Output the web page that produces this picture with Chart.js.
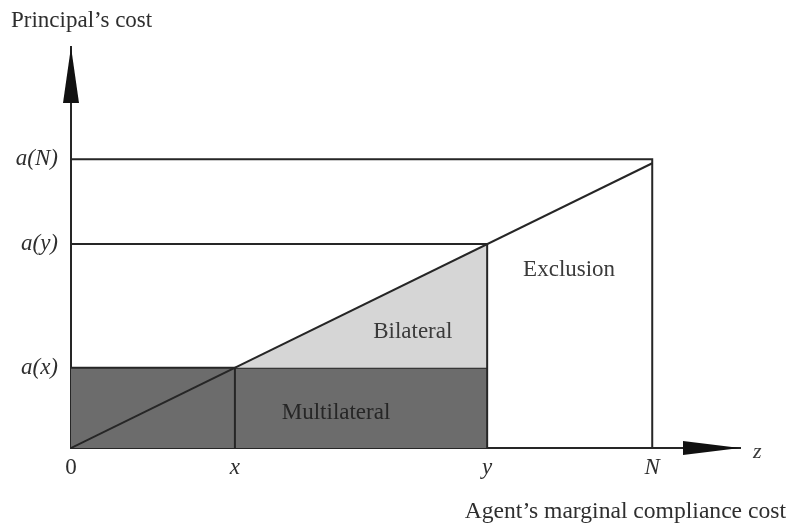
<!DOCTYPE html>
<html>
<head>
<meta charset="utf-8">
<script src="https://cdn.jsdelivr.net/npm/chart.js@4.4.0/dist/chart.umd.min.js"></script>
<style>
  body { margin: 0; background: #fff; }
</style>
</head>
<body>
<canvas id="chart" width="789" height="525"></canvas>
<script>
/* Principal's cost vs agent's marginal compliance cost */

// positions along z (agent's marginal compliance cost)
const zNames = ["0", "x", "y", "N"];
const zValues = [0, 2.82, 7.16, 10];
// principal's cost a(z)
const costNames = ["a(x)", "a(y)", "a(N)"];
const costValues = [1.38, 3.51, 4.97];
const diagEnd = 4.9;   // where the a(z) line meets z = N

const regionNames = ["Exclusion", "Bilateral", "Multilateral"];
const regionZ = [8.57, 5.88, 4.56];
const regionCost = [3.06, 2.0, 0.6];

const [z0, zx, zy, zN] = zValues;
const [ax, ay, aN] = costValues;

const INK = "#262626";
const serif = "'Liberation Serif', 'DejaVu Serif', serif";

function line(points, extra) {
    return Object.assign({
        data: points.map(p => ({x: p[0], y: p[1]})),
        showLine: true,
        borderColor: INK,
        borderWidth: 2,
        pointRadius: 0,
        tension: 0,
        fill: false,
        order: 1
    }, extra || {});
}

const datasets = [
    // multilateral block
    line([[z0, ax], [zy, ax]], {fill: "origin", backgroundColor: "#6c6c6c", order: 3}),
    // bilateral triangle
    line([[zx, ax], [zy, ay]], {fill: {value: ax}, backgroundColor: "#d6d6d6", borderWidth: 0, order: 2}),
    // a(z) diagonal
    line([[z0, 0], [zN, diagEnd]]),
    // a(N) bounds
    line([[z0, aN], [zN, aN], [zN, 0]]),
    // a(y) bounds
    line([[z0, ay], [zy, ay], [zy, 0]]),
    // x divider
    line([[zx, 0], [zx, ax]])
];

const decor = {
    id: "decor",
    afterDraw(chart) {
        const ctx = chart.ctx;
        const xs = chart.scales.x, ys = chart.scales.y;
        const a = chart.chartArea;
        ctx.save();
        ctx.fillStyle = "#111";
        // y arrow
        ctx.beginPath();
        ctx.moveTo(a.left, a.top);
        ctx.lineTo(a.left - 8, a.top + 56);
        ctx.lineTo(a.left + 8, a.top + 56);
        ctx.closePath();
        ctx.fill();
        // x arrow
        ctx.beginPath();
        ctx.moveTo(a.right, a.bottom);
        ctx.lineTo(a.right - 57, a.bottom - 7);
        ctx.lineTo(a.right - 57, a.bottom + 7);
        ctx.closePath();
        ctx.fill();

        ctx.fillStyle = "#3a3a3a";
        ctx.textBaseline = "middle";
        ctx.font = "italic 22px " + serif;
        ctx.textAlign = "left";
        ctx.fillText("z", a.right + 13, a.bottom + 4);

        ctx.fillStyle = "#2e2e2e";
        ctx.font = "23px " + serif;
        ctx.fillText("Principal\u2019s cost", 11, 21);
        ctx.textAlign = "right";
        ctx.font = "23.6px " + serif;
        ctx.fillText("Agent\u2019s marginal compliance cost", 786, 512);

        ctx.textAlign = "center";
        ctx.font = "23px " + serif;
        regionNames.forEach((name, i) => {
            ctx.fillStyle = i === 2 ? "#262626" : "#3a3a3a";
            ctx.fillText(name, xs.getPixelForValue(regionZ[i]), ys.getPixelForValue(regionCost[i]));
        });
        ctx.restore();
    }
};

new Chart(document.getElementById("chart"), {
    type: "scatter",
    data: {datasets: datasets},
    options: {
        responsive: false,
        animation: false,
        layout: {padding: {left: 0, top: 47, right: 49, bottom: 0}},
        plugins: {legend: {display: false}, tooltip: {enabled: false}},
        scales: {
            x: {
                type: "linear",
                min: 0,
                max: 11.51,
                grid: {display: false, drawTicks: false},
                border: {display: true, color: INK, width: 2},
                afterFit: s => { s.height = 77; },
                afterBuildTicks: s => { s.ticks = zValues.map(v => ({value: v})); },
                ticks: {
                    padding: 6,
                    color: "#2e2e2e",
                    font: c => ({family: serif, size: 23, style: c.index === 0 ? "normal" : "italic"}),
                    callback: (v, i) => zNames[i]
                }
            },
            y: {
                type: "linear",
                min: 0,
                max: 6.9,
                grid: {display: false, drawTicks: false},
                border: {display: true, color: INK, width: 2},
                afterFit: s => { s.width = 71; },
                afterBuildTicks: s => { s.ticks = costValues.map(v => ({value: v})); },
                ticks: {
                    padding: 13,
                    color: "#2e2e2e",
                    font: {family: serif, size: 23, style: "italic"},
                    callback: (v, i) => costNames[i]
                }
            }
        }
    },
    plugins: [decor]
});
</script>
</body>
</html>
